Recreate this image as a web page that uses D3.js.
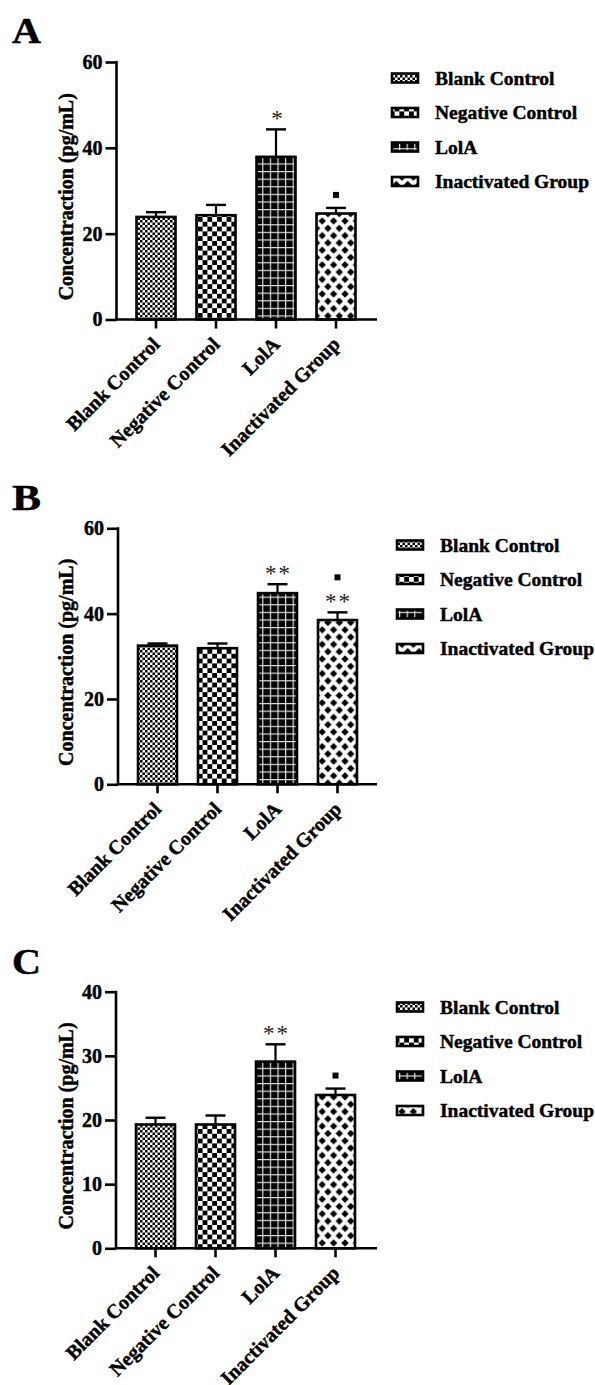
<!DOCTYPE html>
<html><head><meta charset="utf-8">
<script src="https://cdn.jsdelivr.net/npm/d3@7"></script>
<style>
body{margin:0;background:#fff}
svg{display:block}
text{font-family:"Liberation Serif","Times New Roman",Times,serif;}
.heavy{stroke:#000;stroke-width:0.45px;}
</style>
</head><body>
<svg id="chart" width="595" height="1385"></svg>
<script>
// ---------- data ----------
const categories = ["Blank Control", "Negative Control", "LolA", "Inactivated Group"];
const panelNames = ["A", "B", "C"];
const yTitle = "Concentraction (pg/mL)";

const valuesA = [23.9, 24.3, 37.9, 24.7];
const errorsA = [1.1, 2.4, 6.4, 1.3];
const starsA  = ["", "", "*", ""];
const marksA  = [false, false, false, true];
const ticksA  = [0, 20, 40, 60];

const valuesB = [32.5, 31.9, 44.8, 38.5];
const errorsB = [0.5, 1.1, 2.1, 1.8];
const starsB  = ["", "", "**", "**"];
const marksB  = [false, false, false, true];
const ticksB  = [0, 20, 40, 60];

const valuesC = [19.3, 19.3, 29.1, 23.9];
const errorsC = [1.05, 1.4, 2.7, 1.0];
const starsC  = ["", "", "**", ""];
const marksC  = [false, false, false, true];
const ticksC  = [0, 10, 20, 30, 40];

// ---------- layout ----------
const panels = [
  {name: panelNames[0], values: valuesA, errors: errorsA, stars: starsA, marks: marksA, ticks: ticksA,
   letterY: 43, top: 62, bottom: 319.5, axisX: 116.5, xEnd: 377, legendX: 392, legendY: 78},
  {name: panelNames[1], values: valuesB, errors: errorsB, stars: starsB, marks: marksB, ticks: ticksB,
   letterY: 510, top: 528.3, bottom: 784.3, axisX: 118, xEnd: 377, legendX: 397, legendY: 545},
  {name: panelNames[2], values: valuesC, errors: errorsC, stars: starsC, marks: marksC, ticks: ticksC,
   letterY: 974, top: 991.7, bottom: 1248.3, axisX: 116, xEnd: 377, legendX: 397, legendY: 1007}
];
const patternIds = ["pBlank", "pNeg", "pLolA", "pInact"];

const svg = d3.select("#chart");
const defs = svg.append("defs");

// patterns
{
  const p1 = defs.append("pattern").attr("id", "pBlank").attr("patternUnits", "userSpaceOnUse")
    .attr("width", 5).attr("height", 5);
  p1.append("rect").attr("width", 5).attr("height", 5).attr("fill", "#fff");
  p1.append("rect").attr("width", 2.5).attr("height", 2.5).attr("fill", "#000");
  p1.append("rect").attr("x", 2.5).attr("y", 2.5).attr("width", 2.5).attr("height", 2.5).attr("fill", "#000");

  const s = 4.8;
  const p2 = defs.append("pattern").attr("id", "pNeg").attr("patternUnits", "userSpaceOnUse")
    .attr("width", 2 * s).attr("height", 2 * s).attr("x", 1).attr("y", 1);
  p2.append("rect").attr("width", 2 * s).attr("height", 2 * s).attr("fill", "#fff");
  p2.append("rect").attr("width", s).attr("height", s).attr("fill", "#000");
  p2.append("rect").attr("x", s).attr("y", s).attr("width", s).attr("height", s).attr("fill", "#000");

  const g = 7.6;
  const p3 = defs.append("pattern").attr("id", "pLolA").attr("patternUnits", "userSpaceOnUse")
    .attr("width", g).attr("height", g);
  p3.append("rect").attr("width", g).attr("height", g).attr("fill", "#000");
  p3.append("rect").attr("x", g / 2).attr("width", 1.2).attr("height", g).attr("fill", "#e0e0e0");
  p3.append("rect").attr("y", g / 2).attr("width", g).attr("height", 1.2).attr("fill", "#e0e0e0");

  const w = 11.4, h = 14.6, r = 3.7;
  const p4 = defs.append("pattern").attr("id", "pInact").attr("patternUnits", "userSpaceOnUse")
    .attr("width", w).attr("height", h).attr("x", 3).attr("y", 2);
  p4.append("rect").attr("width", w).attr("height", h).attr("fill", "#fff");
  const pts = [[0, 0], [w, 0], [0, h], [w, h], [w / 2, h / 2]];
  p4.selectAll("path").data(pts).enter().append("path")
    .attr("d", d => `M${d[0]},${d[1] - r}L${d[0] + r},${d[1]}L${d[0]},${d[1] + r}L${d[0] - r},${d[1]}Z`)
    .attr("fill", "#000");
}

panels.forEach(P => {
  const g = svg.append("g");
  const maxV = P.ticks[P.ticks.length - 1];
  const y = d3.scaleLinear().domain([0, maxV]).range([P.bottom, P.top]);
  const x = d3.scaleBand().domain(categories)
    .range([P.axisX + 9.5, P.axisX + 9.5 + 240]).paddingInner(0.35).paddingOuter(0.175);
  const bw = x.bandwidth();

  // panel letter
  g.append("text").attr("x", 12).attr("y", P.letterY).attr("class", "heavy")
    .attr("font-size", 35).attr("font-weight", "bold")
    .attr("textLength", 29).attr("lengthAdjust", "spacingAndGlyphs").text(P.name);

  // error bars
  categories.forEach((c, i) => {
    const cx = x(c) + bw / 2;
    const v = P.values[i], e = P.errors[i];
    g.append("line").attr("x1", cx).attr("x2", cx).attr("y1", y(v)).attr("y2", y(v + e))
      .attr("stroke", "#000").attr("stroke-width", 2.2);
    g.append("line").attr("x1", cx - 10).attr("x2", cx + 10).attr("y1", y(v + e)).attr("y2", y(v + e))
      .attr("stroke", "#000").attr("stroke-width", 2.4);
  });

  // bars
  g.selectAll("rect.bar").data(categories).enter().append("rect").attr("class", "bar")
    .attr("x", c => x(c))
    .attr("y", (c, i) => y(P.values[i]))
    .attr("width", bw)
    .attr("height", (c, i) => P.bottom - y(P.values[i]))
    .attr("fill", (c, i) => `url(#${patternIds[i]})`)
    .attr("stroke", "#000").attr("stroke-width", 2.6);

  // significance marks
  categories.forEach((c, i) => {
    const cx = x(c) + bw / 2;
    const topY = y(P.values[i] + P.errors[i]);
    let off = 13;
    if (P.stars[i]) {
      g.append("text").attr("x", cx + 1).attr("y", topY - off + 10)
        .attr("text-anchor", "middle").attr("font-size", 23).attr("fill", "#222")
        .attr("letter-spacing", P.stars[i].length > 1 ? 2 : 0)
        .text(P.stars[i]);
      off += 22;
    }
    if (P.marks[i]) {
      g.append("rect").attr("x", cx - 3).attr("y", topY - off - 3)
        .attr("width", 6).attr("height", 6).attr("fill", "#000");
    }
  });

  // y axis
  const yAxis = d3.axisLeft(y).tickValues(P.ticks).tickSize(11).tickPadding(3).tickFormat(d3.format("d"));
  const ya = g.append("g").attr("transform", `translate(${P.axisX},0)`).call(yAxis);
  ya.select(".domain").attr("stroke", "#000").attr("stroke-width", 2.6)
    .attr("d", `M0,${P.top - 1}V${P.bottom}`);
  ya.selectAll(".tick line").attr("stroke", "#000").attr("stroke-width", 2.6);
  ya.selectAll(".tick text").attr("font-size", 20).attr("font-weight", "bold").attr("class", "heavy")
    .attr("font-family", '"Liberation Serif","Times New Roman",serif').attr("fill", "#000");

  // x axis
  const xAxis = d3.axisBottom(x).tickSize(9).tickFormat("");
  const xa = g.append("g").attr("transform", `translate(0,${P.bottom})`).call(xAxis);
  xa.select(".domain").attr("d", `M${P.axisX - 1},0H${P.xEnd}`).attr("stroke", "#000").attr("stroke-width", 2.6);
  xa.selectAll(".tick line").attr("stroke", "#000").attr("stroke-width", 2.6);

  // x labels
  g.selectAll("text.xl").data(categories).enter().append("text").attr("class", "xl heavy")
    .attr("transform", c => `translate(${x(c) + bw / 2 + 5},${P.bottom + 26}) rotate(-45)`)
    .attr("text-anchor", "end").attr("font-size", 20).attr("font-weight", "bold").text(c => c);

  // y title
  g.append("text").attr("class", "heavy")
    .attr("transform", `translate(73,${(P.top + P.bottom) / 2 + 6}) rotate(-90)`)
    .attr("text-anchor", "middle").attr("font-size", 20).attr("font-weight", "bold").text(yTitle);

  // legend
  categories.forEach((c, i) => {
    const ly = P.legendY + i * 34.5;
    g.append("rect").attr("x", P.legendX).attr("y", ly - 4.5).attr("width", 26).attr("height", 9)
      .attr("fill", `url(#${patternIds[i]})`).attr("stroke", "#000").attr("stroke-width", 2.6);
    g.append("text").attr("class", "heavy").attr("x", P.legendX + 43).attr("y", ly + 6.5)
      .attr("font-size", 19.5).attr("font-weight", "bold").text(c);
  });
});
</script>
</body></html>
